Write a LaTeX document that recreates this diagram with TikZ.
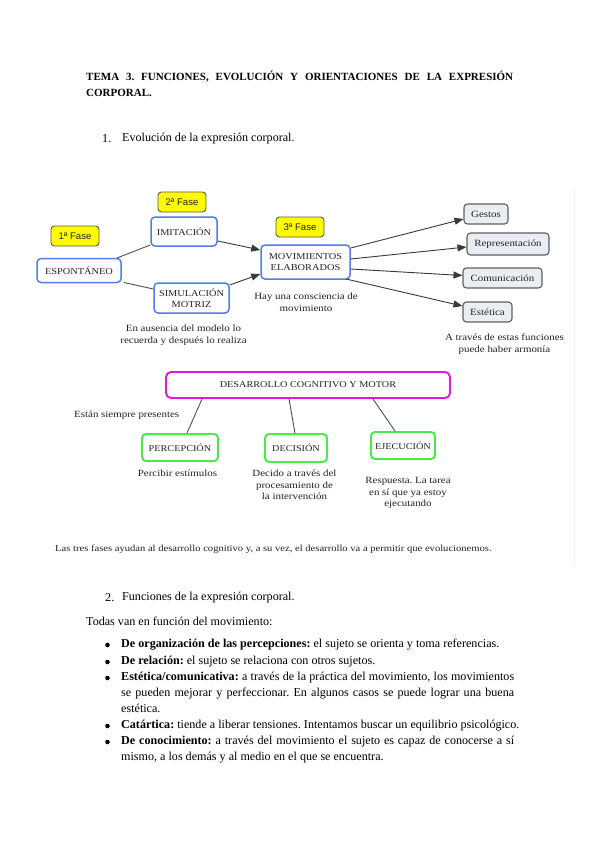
\documentclass[tikz,border=0pt]{standalone}
\usepackage{fontspec}
\setmainfont{Liberation Serif}
\newfontfamily\dfont[FakeStretch=1.15]{Liberation Serif}
\newfontfamily\fasefont{Liberation Sans}
\usetikzlibrary{arrows.meta}
\definecolor{nodeblue}{RGB}{80,125,235}
\definecolor{fasey}{RGB}{255,250,0}
\definecolor{faseb}{RGB}{90,90,70}
\definecolor{gfill}{RGB}{234,238,242}
\definecolor{gdraw}{RGB}{95,95,95}
\definecolor{magbox}{RGB}{230,20,225}
\definecolor{grbox}{RGB}{70,235,70}
\definecolor{txt}{RGB}{35,35,35}
\tikzset{
  bluebox/.style={draw=nodeblue, line width=1.5pt, rounded corners=4pt, fill=white, align=center, inner sep=1pt, font=\dfont\fontsize{9}{10.5}\selectfont, text=txt},
  fasebox/.style={draw=faseb, line width=0.9pt, rounded corners=3.5pt, fill=fasey, inner sep=1pt, font=\fasefont\fontsize{9.6}{10}\selectfont, text=txt, minimum width=48pt, minimum height=20pt},
  graybox/.style={draw=gdraw, line width=1.1pt, rounded corners=3.5pt, fill=gfill, inner sep=1pt, font=\dfont\fontsize{9.5}{10}\selectfont, text=txt},
  magentabox/.style={draw=magbox, line width=1.9pt, rounded corners=5pt, fill=white, font=\dfont\fontsize{8.9}{10}\selectfont, text=txt},
  greenbox/.style={draw=grbox, line width=1.9pt, rounded corners=4pt, fill=white, inner sep=1pt, font=\dfont\fontsize{8.9}{10}\selectfont, text=txt},
  note/.style={align=center, font=\dfont\fontsize{9.5}{11.7}\selectfont, text=txt, inner sep=0pt},
  arr/.style={draw=txt!90, line width=0.9pt, -{Triangle[length=9pt,width=7pt]}},
  plain/.style={draw=txt!80, line width=0.9pt},
  body/.style={font=\fontsize{12.1}{16.2}\selectfont, inner sep=0pt, anchor=west},
}
\begin{document}
\frenchspacing
\begin{tikzpicture}[x=1pt,y=-1pt]
\useasboundingbox (0,0) rectangle (599,848);
\fill[white] (0,0) rectangle (599,848);

% Title
\node[anchor=west, inner sep=0pt, font=\fontsize{11}{16}\bfseries] (title1) at (86,77)
  {\makebox[427pt][s]{TEMA 3. FUNCIONES, EVOLUCIÓN Y ORIENTACIONES DE LA EXPRESIÓN}};
\node[anchor=west, inner sep=0pt, font=\fontsize{11}{16}\bfseries] (title2) at (86,93) {CORPORAL.};

\node[body] (n1) at (102,139) {1.};
\node[body] (h1) at (122,139) {Evolución de la expresión corporal.};

% faint frame line
\draw[black!6, line width=0.8pt] (574,190) -- (574,565);

% Diagram part 1
\node[fasebox] (f1) at (75,236) {1ª Fase};
\node[fasebox] (f2) at (182,202) {2ª Fase};
\node[fasebox] (f3) at (300,227) {3ª Fase};

\node[bluebox, minimum width=84pt, minimum height=24pt] (esp) at (79,270.5) {ESPONTÁNEO};
\node[bluebox, minimum width=66pt, minimum height=29pt] (imi) at (184,231.5) {IMITACIÓN};
\node[bluebox, minimum width=75pt, minimum height=30pt] (sim) at (191.5,298) {SIMULACIÓN\\MOTRIZ};
\node[bluebox, minimum width=89pt, minimum height=34pt] (mov) at (305.5,262) {MOVIMIENTOS\\ELABORADOS};

\node[graybox, minimum width=44pt, minimum height=20pt] (ges) at (486,214) {Gestos};
\node[graybox, minimum width=82pt, minimum height=22pt] (rep) at (508,244) {Representación};
\node[graybox, minimum width=79pt, minimum height=20pt] (com) at (502.5,278) {Comunicación};
\node[graybox, minimum width=49pt, minimum height=20pt] (est) at (487.5,312) {Estética};

\node[note] (tmov) at (306,302) {Hay una consciencia de\\movimiento};
\node[note] (tsim) at (183.5,335.5) {En ausencia del modelo lo\\recuerda y después lo realiza};
\node[note] (tfun) at (504.5,344.5) {A través de estas funciones\\puede haber armonía};

\draw[plain] (117,258) coordinate (e1) -- (imi.west |- 0,245) coordinate (i1);
\draw[plain] (124,282.5) coordinate (e2) -- (sim.west |- 0,289) coordinate (s1);
\draw[arr] (imi.east |- 0,241) -- (mov.west |- 0,250);
\draw[arr] (sim.east |- 0,285) -- (mov.west |- 0,274);
\draw[arr] (mov.east |- 0,248) -- (ges.west |- 0,219);
\draw[arr] (mov.east |- 0,259) -- (rep.west |- 0,247);
\draw[arr] (mov.east |- 0,269) -- (com.west |- 0,275.5);
\draw[arr] (346,279) -- (est.west |- 0,306);

% Diagram part 2
\node[magentabox, minimum width=284pt, minimum height=26pt] (des) at (308,385) {DESARROLLO COGNITIVO Y MOTOR};
\node[note, anchor=west] (sie) at (74,415) {Están siempre presentes};
\node[greenbox, minimum width=76pt, minimum height=27pt] (per) at (180,447.5) {PERCEPCIÓN};
\node[greenbox, minimum width=62pt, minimum height=28pt] (dec) at (296,448) {DECISIÓN};
\node[greenbox, minimum width=64pt, minimum height=27pt] (eje) at (403,445.5) {EJECUCIÓN};
\draw[plain] (202,399) coordinate (d1) -- (per.north -| 187,0);
\draw[plain] (289,399) coordinate (d2) -- (dec.north -| 295,0);
\draw[plain] (373,399) coordinate (d3) -- (eje.north -| 395,0);
\node[note] (tper) at (177.5,473) {Percibir estímulos};
\node[note] (tdec) at (294.5,485) {Decido a través del\\procesamiento de\\la intervención};
\node[note] (teje) at (408,493) {Respuesta. La tarea\\en sí que ya estoy\\ejecutando};

\node[anchor=west, inner sep=0pt, font=\dfont\fontsize{9.2}{10}\selectfont, text=txt] (cap) at (55,549)
  {Las tres fases ayudan al desarrollo cognitivo y, a su vez, el desarrollo va a permitir que evolucionemos.};

% Section 2
\node[body] (n2) at (105,598) {2.};
\node[body] (h2) at (122,598) {Funciones de la expresión corporal.};
\node[body] (tod) at (86,621) {Todas van en función del movimiento:};

\foreach \yy in {645,662,678,726,742} \fill (107.5,\yy) circle (2.3pt);
\node[body] (b1) at (121,645) {\textbf{De organización de las percepciones:} el sujeto se orienta y toma referencias.};
\node[body] (b2) at (121,662) {\textbf{De relación:} el sujeto se relaciona con otros sujetos.};
\node[body, anchor=north west] (b3) at (121,671.5) {\parbox[t]{393pt}{\fontsize{12.1}{16.2}\selectfont\textbf{Estética/comunicativa:} a través de la práctica del movimiento, los movimientos\linebreak se pueden mejorar y perfeccionar. En algunos casos se puede lograr una buena\linebreak estética.}};
\node[body] (b4) at (121,726) {\textbf{Catártica:} tiende a liberar tensiones. Intentamos buscar un equilibrio psicológico.};
\node[body, anchor=north west] (b5) at (121,735.5) {\parbox[t]{393pt}{\fontsize{12.1}{16.2}\selectfont\textbf{De conocimiento:} a través del movimiento el sujeto es capaz de conocerse a sí\linebreak mismo, a los demás y al medio en el que se encuentra.}};
\end{tikzpicture}
\end{document}
